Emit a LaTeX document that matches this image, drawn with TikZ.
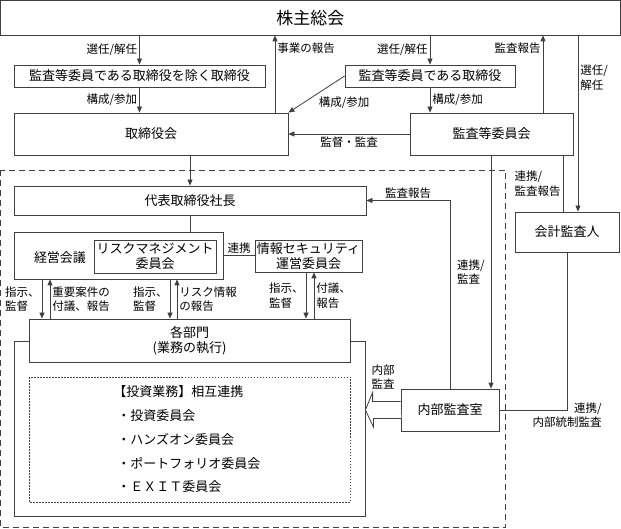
\documentclass[tikz,border=0pt]{standalone}
\usepackage{fontspec}
\setmainfont{Noto Sans CJK JP}
\usetikzlibrary{arrows.meta}

\newcommand{\boxfont}{\fontsize{13}{15}\selectfont}
\newcommand{\lblfont}{\fontsize{11.5}{14.5}\selectfont}

\begin{document}
\begin{tikzpicture}[x=1pt,y=-1pt,line width=.8pt,
  box/.style={draw=black!75,fill=white,inner sep=0pt,align=center,font=\boxfont},
  lbl/.style={font=\lblfont,align=left,inner sep=2pt},
  arr/.style={draw=black!75,-{Triangle[length=6pt,width=5pt]}},
  con/.style={draw=black!75},
  item/.style={font=\boxfont,anchor=west,inner sep=0pt}]
\useasboundingbox (0,0) rectangle (621,529);

% execution side
\draw[con,dash pattern=on 6pt off 4pt] (0.5,170) rectangle (505,527.5);
\node[box,minimum width=351pt,minimum height=175pt] (sect) at (189.5,428.5) {};
\draw[con,dash pattern=on 1.5pt off 1.5pt] (29,377) rectangle (350,502);

% boxes
\node[box,minimum width=619.5pt,minimum height=34.5pt,font=\fontsize{17}{20}\selectfont] (gm) at (310.25,17.75) {株主総会};
\node[box,minimum width=251pt,minimum height=22pt] (exA) at (139.5,76) {監査等委員である取締役を除く取締役};
\node[box,minimum width=274pt,minimum height=42pt] (board) at (151,134) {取締役会};
\node[box,minimum width=170pt,minimum height=22pt] (exB) at (430,76) {監査等委員である取締役};
\node[box,minimum width=163pt,minimum height=42pt] (acb) at (491.5,134) {監査等委員会};
\node[box,minimum width=352pt,minimum height=29pt] (ceo) at (190,200.5) {代表取締役社長};
\node[box,minimum width=209pt,minimum height=47pt] (mgmt) at (118.5,255.5) {};
\node[font=\boxfont] (mgmtt) at (60,258) {経営会議};
\node[box,minimum width=122pt,minimum height=33pt] (rm) at (155,256.5) {リスクマネジメント\\委員会};
\node[box,minimum width=107pt,minimum height=32pt] (isc) at (308.5,256) {情報セキュリティ\\運営委員会};
\node[box,minimum width=321pt,minimum height=43pt] (dept) at (189.5,340.5) {各部門\\(業務の執行)};
\node[box,minimum width=98pt,minimum height=42pt] (audit) at (450,410) {内部監査室};
\node[box,minimum width=104pt,minimum height=40pt] (acct) at (567,232) {会計監査人};

% investment committees
\node[item] (inv0) at (113,392) {【投資業務】相互連携};
\foreach \t [count=\i] in {投資委員会,ハンズオン委員会,ポートフォリオ委員会,ＥＸＩＴ委員会}
  \node[item] (inv\i) at (117,392+23.75*\i) {・\t};

% top part
\draw[arr] (gm.south -| exA.north) -- node[lbl,left] {選任/解任} (exA.north);
\draw[arr] (exA.south) -- node[lbl,left] {構成/参加} (exA.south |- board.north);
\draw[arr] (board.north -| 275,0) -- node[lbl,right,pos=.83] {事業の報告} (gm.south -| 275,0);
\draw[arr] (gm.south -| exB.north) -- node[lbl,left] {選任/解任} (exB.north);
\draw[arr] (exB.south) -- node[lbl,right] {構成/参加} (exB.south |- acb.north);
\draw[arr] (exB.west) -- node[lbl,anchor=north west] {構成/参加} (board.north east);
\draw[arr] (acb.west) -- node[lbl,below] {監督・監査} (board.east);
\draw[arr] (acb.north -| 543,0) -- node[lbl,left,pos=.83] {監査報告} (gm.south -| 543,0);
\draw[arr] (gm.south -| 578,0) -- node[lbl,right,pos=.24] {選任/\\解任} (acct.north -| 578,0);
\draw[con] (acb.south -| 563,0) -- node[lbl,left] {連携/\\監査報告} (acct.north -| 563,0);

% execution
\draw[arr] (board.south -| ceo.north) -- (ceo.north);
\draw[con] (ceo.south) -- (ceo.south |- mgmt.north);
\draw[con] (mgmt.east) -- node[lbl,above] {連携} (mgmt.east -| isc.west);
\foreach \src/\xd/\xu/\tl/\tr in {mgmt/42/50/{指示、\\監督}/{重要案件の\\付議、報告},
    mgmt/170/177/{指示、\\監督}/{リスク情報\\の報告},
    isc/306/314/{指示、\\監督}/{付議、\\報告}}{
  \draw[arr] (\src.south -| \xd,0) -- node[lbl,left] {\tl} (dept.north -| \xd,0);
  \draw[arr] (dept.north -| \xu,0) -- node[lbl,right] {\tr} (\src.south -| \xu,0);
}

% internal audit
\draw[arr] (acb.south -| 491,0) -- node[lbl,left,xshift=-4pt] {連携/\\監査} (audit.north -| 491,0);
\draw[arr] (audit.north) |- node[lbl,above,pos=.75] {監査報告} (ceo.east);
\draw[con] (acct.south) |- node[lbl,align=right,anchor=north east,xshift=37pt,yshift=10pt] {連携/\\内部統制監査} (audit.east);
\draw[con,fill=white] (audit.west) ++(0,-8.5) -- ++(-28,0) -- ++(0,-9) -- (sect.east |- audit.west)
  -- ++(8,17) -- ++(0,-8.5) -- ++(28,0);
\node[lbl,align=center] (iat) at (383,377) {内部\\監査};
\end{tikzpicture}
\end{document}
